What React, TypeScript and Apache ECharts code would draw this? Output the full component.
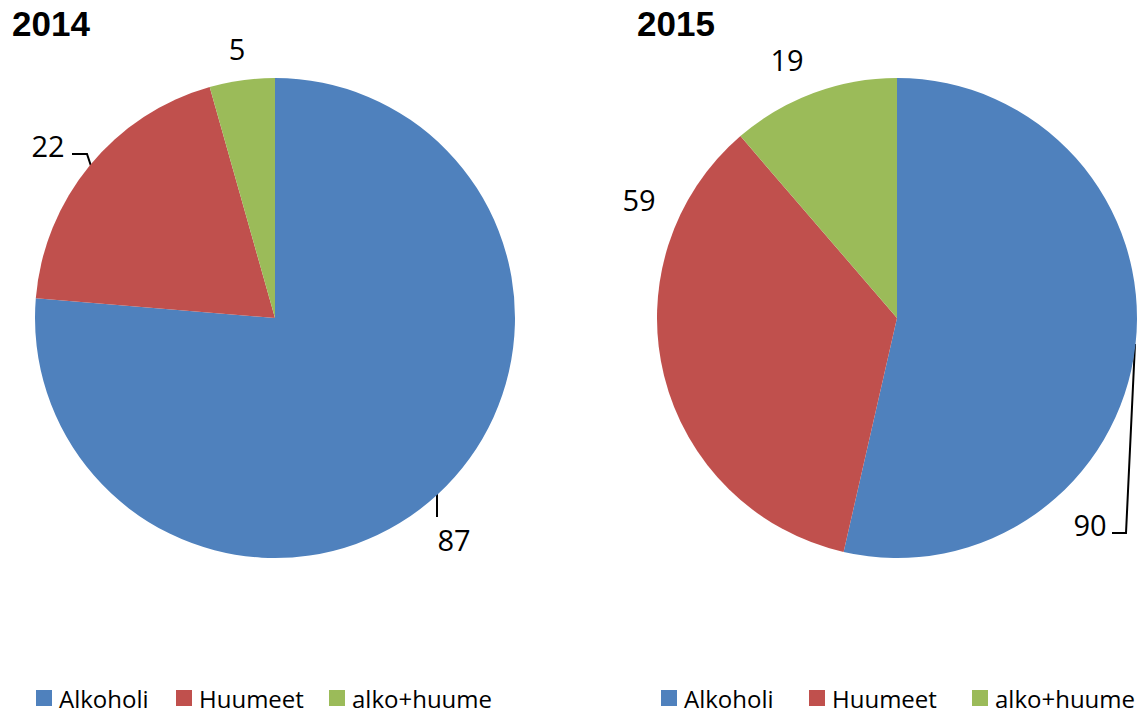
import React, { useEffect, useRef } from "react";
import * as echarts from "echarts";

const categories = ["Alkoholi", "Huumeet", "alko+huume"];
const years = ["2014", "2015"];
const values2014 = [87, 22, 5];
const values2015 = [90, 59, 19];
const colors = ["#4F81BD", "#C0504D", "#9BBB59"];

const FONT = "'Open Sans', 'Liberation Sans', sans-serif";
const TITLE_FONT = "'Liberation Sans', Arial, sans-serif";

// label placement (layout only): [x, y] centres and leader lines
const labelPos = [
  [
    [454, 539],
    [48, 145],
    [237, 48],
  ],
  [
    [1090, 524],
    [639, 199],
    [787, 59],
  ],
];
const labelLines: (number[][] | null)[][] = [
  [
    [
      [437, 493],
      [437, 505],
      [437, 517],
    ],
    [
      [72, 154],
      [87, 154],
      [91, 166],
    ],
    null,
  ],
  [
    [
      [1112, 533],
      [1126, 533],
      [1135, 344],
    ],
    null,
    null,
  ],
];
// legend item left edges per chart (layout only)
const legendLefts = [
  [36, 176, 329],
  [661, 809, 972],
];

export default function App() {
  const ref = useRef<HTMLDivElement>(null);
  useEffect(() => {
    if (!ref.current) return;
    const chart = echarts.init(ref.current, undefined, { renderer: "svg" });
    const seriesValues = [values2014, values2015];
    const centers = [
      [275, 318],
      [897, 318],
    ];
    const series = seriesValues.map((vals, s) => ({
      type: "pie",
      name: years[s],
      center: centers[s],
      radius: 240,
      startAngle: 90,
      clockwise: true,
      avoidLabelOverlap: false,
      itemStyle: { borderWidth: 0 },
      emphasis: { disabled: true },
      label: {
        show: true,
        position: "outside",
        formatter: "{c}",
        color: "#000",
        fontFamily: FONT,
        fontSize: 29,
      },
      labelLine: {
        show: true,
        lineStyle: { color: "#000", width: 2 },
        smooth: false,
      },
      labelLayout: (params: any) => {
        const i = params.dataIndex;
        const p = labelPos[s][i];
        const out: any = {
          x: p[0],
          y: p[1],
          align: "center",
          verticalAlign: "middle",
        };
        const ln = labelLines[s][i];
        if (ln) out.labelLinePoints = ln;
        return out;
      },
      data: vals.map((v, i) => ({
        value: v,
        name: categories[i],
        itemStyle: { color: colors[i] },
        labelLine: { show: labelLines[s][i] !== null },
      })),
    }));

    const legends: any[] = [];
    legendLefts.forEach((lefts) => {
      lefts.forEach((left, i) => {
        legends.push({
          orient: "horizontal",
          top: 686,
          left,
          itemWidth: 16,
          itemHeight: 16,
          icon: "rect",
          padding: 0,
          selectedMode: false,
          data: [categories[i]],
          textStyle: { color: "#000", fontFamily: FONT, fontSize: 24, padding: [0, 0, 0, 2] },
        });
      });
    });

    chart.setOption({
      animation: false,
      backgroundColor: "#fff",
      color: colors,
      title: [
        {
          text: years[0],
          left: 12,
          top: 6,
          padding: 0,
          textStyle: { fontFamily: TITLE_FONT, fontWeight: "bold", fontSize: 35, color: "#000" },
        },
        {
          text: years[1],
          left: 637,
          top: 6,
          padding: 0,
          textStyle: { fontFamily: TITLE_FONT, fontWeight: "bold", fontSize: 35, color: "#000" },
        },
      ],
      legend: legends,
      series,
    });
    return () => chart.dispose();
  }, []);
  return (
    <div
      ref={ref}
      style={{ position: "fixed", left: 0, top: 0, width: 1147, height: 713 }}
    />
  );
}
